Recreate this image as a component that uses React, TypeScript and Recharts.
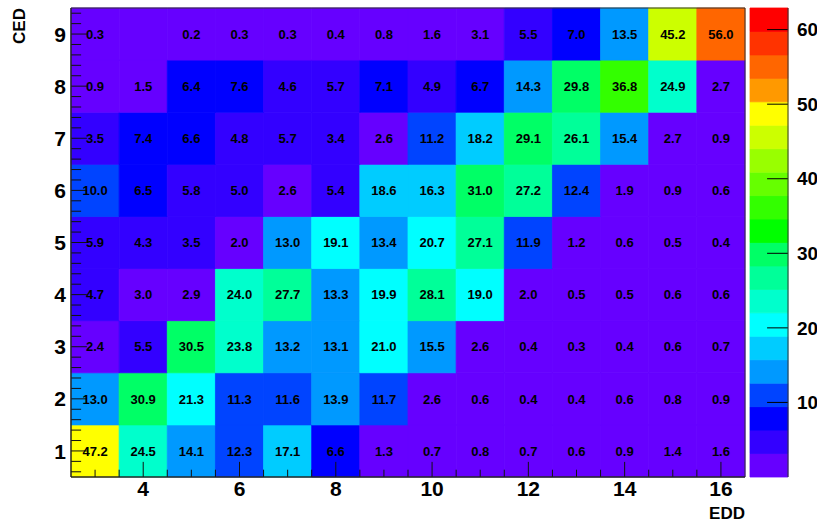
import React from 'react';
import { ComposedChart, Scatter, XAxis, YAxis, ReferenceArea, ReferenceLine } from 'recharts';

// bin centres
const eddBins = [3, 4, 5, 6, 7, 8, 9, 10, 11, 12, 13, 14, 15, 16];
const cedBins = [1, 2, 3, 4, 5, 6, 7, 8, 9];

// one array per CED row, values along EDD
const ced1 = [47.2, 24.5, 14.1, 12.3, 17.1, 6.6, 1.3, 0.7, 0.8, 0.7, 0.6, 0.9, 1.4, 1.6];
const ced2 = [13.0, 30.9, 21.3, 11.3, 11.6, 13.9, 11.7, 2.6, 0.6, 0.4, 0.4, 0.6, 0.8, 0.9];
const ced3 = [2.4, 5.5, 30.5, 23.8, 13.2, 13.1, 21.0, 15.5, 2.6, 0.4, 0.3, 0.4, 0.6, 0.7];
const ced4 = [4.7, 3.0, 2.9, 24.0, 27.7, 13.3, 19.9, 28.1, 19.0, 2.0, 0.5, 0.5, 0.6, 0.6];
const ced5 = [5.9, 4.3, 3.5, 2.0, 13.0, 19.1, 13.4, 20.7, 27.1, 11.9, 1.2, 0.6, 0.5, 0.4];
const ced6 = [10.0, 6.5, 5.8, 5.0, 2.6, 5.4, 18.6, 16.3, 31.0, 27.2, 12.4, 1.9, 0.9, 0.6];
const ced7 = [3.5, 7.4, 6.6, 4.8, 5.7, 3.4, 2.6, 11.2, 18.2, 29.1, 26.1, 15.4, 2.7, 0.9];
const ced8 = [0.9, 1.5, 6.4, 7.6, 4.6, 5.7, 7.1, 4.9, 6.7, 14.3, 29.8, 36.8, 24.9, 2.7];
const ced9 = [0.3, 0, 0.2, 0.3, 0.3, 0.4, 0.8, 1.6, 3.1, 5.5, 7.0, 13.5, 45.2, 56.0];
const rows = [ced1, ced2, ced3, ced4, ced5, ced6, ced7, ced8, ced9];

const xMajorTicks = [4, 6, 8, 10, 12, 14, 16];
const zTicks = [10, 20, 30, 40, 50, 60];
const zMax = 62.9;

// ROOT-like rainbow, 20 contours, bottom -> top
const palette = [
  '#6600ff', '#3300ff', '#0000ff', '#0044ff', '#0099ff',
  '#00ccff', '#00ffff', '#00ffcc', '#00ff99', '#00ff66',
  '#00ff00', '#33ff00', '#66ff00', '#99ff00', '#ccff00',
  '#ffff00', '#ff9900', '#ff6600', '#ff3300', '#ff0000',
];

const colorFor = (v: number) => {
  const i = Math.floor((v / zMax) * palette.length + 0.01);
  return palette[Math.max(0, Math.min(palette.length - 1, i))];
};

const cells = rows.flatMap((row, i) =>
  row.map((v, j) => ({ x: eddBins[j], y: cedBins[i], v }))
);

// minor ticks every 0.5 on x, every 0.2 on y
const xTicks = Array.from({ length: 27 }, (_, i) => 3 + i * 0.5);
const yTicks = Array.from({ length: 45 }, (_, i) => Math.round((0.6 + i * 0.2) * 10) / 10);
const isMajorY = (v: number) => Math.abs(v - Math.round(v)) < 1e-6;

const XTick = (props: any) => {
  const { x, y, payload } = props;
  const v = payload.value;
  if (!xMajorTicks.includes(v)) return <g />;
  return (
    <text x={x} y={y} dy="0.72em" textAnchor="middle" fontSize={21} fontWeight="bold" fill="#000">
      {v}
    </text>
  );
};

const YTick = (props: any) => {
  const { x, y, payload } = props;
  const v = payload.value;
  if (!isMajorY(v)) return <g />;
  return (
    <text x={x} y={y} dy="0.36em" textAnchor="end" fontSize={21} fontWeight="bold" fill="#000">
      {Math.round(v)}
    </text>
  );
};

const CellText = (props: any) => {
  const { cx, cy, payload } = props;
  if (!payload || payload.v <= 0) return <g />;
  return (
    <text x={cx} y={cy} dy="0.36em" textAnchor="middle" fontSize={13} fontWeight="bold" fill="#000">
      {payload.v.toFixed(1)}
    </text>
  );
};

export default function App() {
  return (
    <div
      style={{
        position: 'absolute',
        left: 0,
        top: 0,
        width: 817,
        height: 524,
        overflow: 'hidden',
        background: '#fff',
        fontFamily: '"Liberation Sans", Arial, sans-serif',
      }}
    >
      <ComposedChart width={817} height={524} margin={{ top: 8, right: 72, bottom: 0, left: 31 }}>
        {cells.map((c) => (
          <ReferenceArea
            key={`${c.x}-${c.y}`}
            x1={c.x - 0.5}
            x2={c.x + 0.5}
            y1={c.y - 0.5}
            y2={c.y + 0.5}
            fill={colorFor(c.v)}
            fillOpacity={1}
            stroke={colorFor(c.v)}
            strokeWidth={0.8}
            ifOverflow="visible"
          />
        ))}
        {/* inward tick marks, ROOT style */}
        {xTicks.map((t) => (
          <ReferenceLine
            key={`xt${t}`}
            segment={[{ x: t, y: 0.5 }, { x: t, y: 0.5 + (xMajorTicks.includes(t) ? 0.29 : 0.14) }]}
            stroke="#111"
            ifOverflow="visible"
          />
        ))}
        {yTicks.map((t) => (
          <ReferenceLine
            key={`yt${t}`}
            segment={[{ x: 2.5, y: t }, { x: 2.5 + (isMajorY(t) ? 0.33 : 0.21), y: t }]}
            stroke="#111"
            ifOverflow="visible"
          />
        ))}
        <ReferenceArea
          x1={2.5}
          x2={16.5}
          y1={0.5}
          y2={9.5}
          fill="none"
          fillOpacity={0}
          stroke="#333"
          ifOverflow="visible"
        />
        <XAxis
          type="number"
          dataKey="x"
          domain={[2.5, 16.5]}
          ticks={xTicks}
          interval={0}
          tick={<XTick />}
          tickLine={false}
          tickSize={0}
          tickMargin={4}
          height={47}
          axisLine={{ stroke: '#222' }}
          allowDataOverflow
        />
        <YAxis
          type="number"
          dataKey="y"
          domain={[0.5, 9.5]}
          ticks={yTicks}
          interval={0}
          tick={<YTick />}
          tickLine={false}
          tickSize={0}
          tickMargin={5}
          width={40}
          axisLine={{ stroke: '#222' }}
          allowDataOverflow
        />
        <Scatter data={cells} shape={<CellText />} isAnimationActive={false} />
      </ComposedChart>

      <div style={{ position: 'absolute', left: 740, top: 0 }}>
        <ComposedChart width={77} height={524} margin={{ top: 8, right: 0, bottom: 47, left: 10 }}>
          {palette.map((c, i) => (
            <ReferenceArea
              key={c}
              x1={0}
              x2={1}
              y1={(i * zMax) / palette.length}
              y2={((i + 1) * zMax) / palette.length}
              fill={c}
              fillOpacity={1}
              stroke={c}
              strokeWidth={0.8}
              ifOverflow="visible"
            />
          ))}
          {zTicks.map((t) => (
            <ReferenceLine
              key={t}
              segment={[{ x: 0.45, y: t }, { x: 1, y: t }]}
              stroke="#000"
              ifOverflow="visible"
            />
          ))}
          <XAxis type="number" dataKey="x" domain={[0, 1]} hide allowDataOverflow />
          <YAxis
            type="number"
            dataKey="z"
            orientation="right"
            domain={[0, zMax]}
            ticks={zTicks}
            interval={0}
            tickLine={false}
            tickMargin={3}
            width={29}
            axisLine={{ stroke: '#333' }}
            tick={{ fontSize: 19, fontWeight: 'bold', fill: '#000' }}
            allowDataOverflow
          />
          <Scatter data={[]} isAnimationActive={false} />
        </ComposedChart>
      </div>

      <svg width={817} height={524} style={{ position: 'absolute', left: 0, top: 0, pointerEvents: 'none' }}>
        <text
          transform="translate(25, 8) rotate(-90)"
          textAnchor="end"
          fontSize={17}
          fontWeight="bold"
          fill="#000"
        >
          CED
        </text>
        <text x={745} y={519} textAnchor="end" fontSize={17} fontWeight="bold" fill="#000">
          EDD
        </text>
      </svg>
    </div>
  );
}
